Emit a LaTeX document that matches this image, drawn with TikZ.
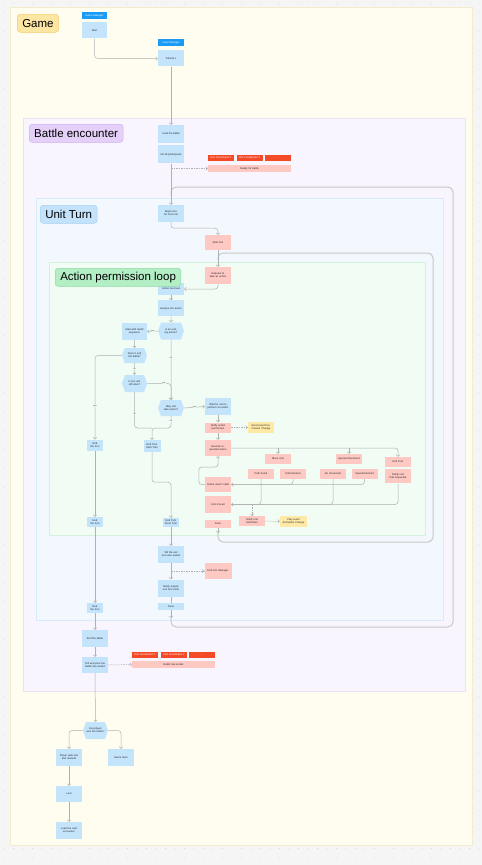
\documentclass[tikz,border=0pt]{standalone}
\usepackage{fontspec}
\setmainfont{Liberation Sans}
\usetikzlibrary{positioning,arrows.meta,shapes.symbols}
\definecolor{colortext}      {RGB}{40 ,40 ,40 }
\definecolor{colorcanvas}    {RGB}{245,245,245}
\definecolor{colordot}       {RGB}{200,200,200}
\definecolor{colorgame}      {RGB}{255,253,240}
\definecolor{colorgameline}  {RGB}{243,235,207}
\definecolor{colorbattle}    {RGB}{248,245,254}
\definecolor{colorbattleline}{RGB}{234,225,246}
\definecolor{colorunit}      {RGB}{243,248,254}
\definecolor{colorunitline}  {RGB}{217,234,251}
\definecolor{coloraction}    {RGB}{241,252,244}
\definecolor{coloractionline}{RGB}{210,241,218}
\definecolor{taggame}        {RGB}{252,230,164}
\definecolor{taggameline}    {RGB}{242,205,111}
\definecolor{tagbattle}      {RGB}{229,208,250}
\definecolor{tagbattleline}  {RGB}{207,175,240}
\definecolor{tagunit}        {RGB}{196,227,251}
\definecolor{tagunitline}    {RGB}{166,208,244}
\definecolor{tagaction}      {RGB}{180,238,197}
\definecolor{tagactionline}  {RGB}{140,216,163}
\definecolor{colorblue}      {RGB}{196,228,252}
\definecolor{colorhead}      {RGB}{26 ,155,245}
\definecolor{colorred}       {RGB}{244,74 ,39 }
\definecolor{colorpink}      {RGB}{254,200,195}
\definecolor{coloryellow}    {RGB}{254,233,166}
\definecolor{colorwire}      {RGB}{176,176,176}
\definecolor{colorloop}      {RGB}{200,200,200}

\begin{document}
\begin{tikzpicture}[
    x=1pt, y=-1pt,
    font={\fontsize{2.6}{3.1}\selectfont},
    base/.style={text=colortext,inner sep=0pt,align=center,rectangle,minimum width=26pt,text width=22pt},
    task/.style={base,fill=colorblue},
    call/.style={base,fill=colorpink},
    event/.style={base,fill=coloryellow},
    owner/.style={base,fill=colorhead,text=white,minimum height=7pt},
    peer/.style={base,fill=colorred,text=white,minimum height=6pt},
    narrow/.style={minimum width=16pt,text width=13pt},
    decision/.style={base,fill=colorblue,signal,signal to=east and west,signal pointer angle=140,text width=19pt},
    area/.style={line width=0.6pt},
    tag/.style={rounded corners=3pt,line width=0.5pt,inner xsep=5pt,minimum height=18pt,anchor=north west,text=black,font={\fontsize{11.5}{13}\selectfont}},
    wire/.style={draw=colorwire,line width=0.5pt,rounded corners=3pt},
    flow/.style={wire,-{Straight Barb[length=1.6pt,width=3.4pt]}},
    dflow/.style={flow,dash pattern=on 1.5pt off 1pt},
    loopline/.style={draw=colorloop,line width=1pt,rounded corners=5pt},
    lbl/.style={fill=coloraction,inner sep=0.3pt,text=colortext,font={\fontsize{2}{2.4}\selectfont}},
]
    \useasboundingbox (0,0) rectangle (482,865);

    % Canvas
    \fill[colorcanvas] (0,0) rectangle (482,865);
    \foreach \i in {0,...,50}
        \foreach \j in {0,...,91}
            \fill[colordot] (4+\i*9.5,3+\j*9.5) circle (0.45pt);

    % Sections
    \draw[area,fill=colorgame,draw=colorgameline]     (10,7)   rectangle (472,845);
    \draw[area,fill=colorbattle,draw=colorbattleline] (23,118) rectangle (465,691);
    \draw[area,fill=colorunit,draw=colorunitline]     (36,198) rectangle (443,620);
    \draw[area,fill=coloraction,draw=coloractionline] (49,262) rectangle (425,535);

    % Loops
    \coordinate (outerin) at (171,618);
    \coordinate (innerin) at (218,533);
    \draw[loopline] (outerin) -- (171,627) -- (453,627) -- (453,187) -- (171,187) -- (171,196);
    \draw[loopline] (innerin) -- (218,542) -- (433,542) -- (433,253) -- (218,253) -- (218,260);

    % Game
    \node[owner,minimum width=25pt] (gmhead) at (94.5,15.5) {Game Manager};
    \node[task,minimum width=25pt,minimum height=16pt,below=3pt of gmhead] (start) {Start};
    \node[owner] (lmhead) at (171,42.5) {Level Manager};
    \node[task,minimum height=16pt,below=4pt of lmhead] (tutorial) {Tutorial 1};
    \draw[flow] (start.south) |- (tutorial.west);

    % Battle
    \node[task,minimum height=18pt] (load) at (171,134) {Load the battle};
    \node[task,minimum height=18pt,below=2pt of load] (init) {Init all participants};
    \draw[flow] (tutorial) -- (load);
    \node[call,minimum width=83pt,text width=80pt,minimum height=7pt] (ready) at (249.5,168.5) {Ready for battle};
    \node[peer] (coord1) at (221,158)   {Unit Coordinator 1};
    \node[peer] (coord2) at (249.5,158) {Unit Coordinator 2};
    \node[peer] (coord3) at (278,158)   {...};
    \draw[dflow] (init.south |- ready.west) -- (ready.west);

    % Unit turn
    \node[task,minimum height=17pt] (begin) at (171,213.5) {Begin turn for next unit};
    \draw[flow] (init) -- (begin);
    \node[call,minimum height=15pt] (startturn) at (218,242.5) {Start turn};
    \draw[flow] (begin.south) -- ++(0,6) -| (startturn.north);

    % Action permission loop
    \node[call,minimum height=17pt] (request) at (218,275.5) {Request to take an action};
    \draw[flow] (startturn) -- (request);
    \node[task,minimum height=12pt] (received) at (171,289) {Action received};
    \draw[flow] (request.south) |- (received.east);
    \node[task,minimum height=16pt,below=5pt of received] (analyse) {Analyse the action};
    \draw[flow] (received) -- (analyse);
    \node[decision,minimum width=26pt,minimum height=17pt] (isend) at (171,331) {Is an ending action?};
    \draw[flow] (analyse) -- (isend);
    \node[task,minimum width=25pt,minimum height=17pt] (death) at (134.5,331.5) {Start with death sequence};
    \draw[flow] (isend.west) -- node[lbl]{yes} (death.east);
    \node[decision,minimum width=25pt,minimum height=15pt] (battleover) at (134.5,355.5) {Does it end the battle?};
    \draw[flow] (death) -- (battleover);
    \node[decision,minimum width=25pt,minimum height=17pt] (alive) at (134.5,383.5) {Is the unit still alive?};
    \draw[flow] (battleover) -- node[lbl]{no} (alive);
    \node[decision,minimum width=26pt,minimum height=16pt] (maytake) at (171,408) {May unit take action?};
    \draw[flow] (isend) -- node[lbl,pos=0.3]{no} (maytake);
    \draw[flow] (alive.east) -| node[lbl,pos=0.35]{yes} (maytake.north);

    \node[task,narrow,minimum height=11pt] (endturn1) at (95,445) {End the turn};
    \draw[flow] (battleover.west) -| node[lbl,pos=0.8]{yes} (endturn1.north);
    \node[task,narrow,minimum width=17pt,minimum height=12pt] (endstart) at (152,446) {End Turn Start Turn};
    \coordinate (merge) at (152,428);
    \draw[wire] (alive.south) |- node[lbl,pos=0.3]{no} (merge);
    \draw[flow] (maytake.south) |- node[lbl,pos=0.2]{no} (merge) -- (endstart.north);

    \node[task,minimum height=17pt] (perform) at (218,406.5) {Wait for unit to perform an action};
    \draw[flow] (maytake.east) -- node[lbl]{yes} (perform.west);
    \node[call,minimum height=10pt] (notify) at (218,427.5) {Notify action permission};
    \draw[flow] (perform) -- (notify);
    \node[event,minimum height=11pt] (permchange) at (261,427.5) {Send event Permission Change};
    \draw[dflow] (notify) -- (permchange);
    \node[call,minimum height=16pt] (execute) at (218,448) {Execute requested action};
    \draw[flow] (notify) -- (execute);

    % Requested actions
    \node[call,minimum height=10pt] (move)      at (278,459) {Move Unit};
    \node[call,minimum height=10pt] (special)   at (349,459) {Special Movement};
    \node[call,minimum height=10pt] (endtb)     at (398,462) {End Turn};
    \node[call,minimum height=14pt,below=2pt of endtb] (notifyreq) {Notify unit that requested};
    \node[call,minimum height=10pt] (pathfound) at (261,474) {Path found};
    \node[call,minimum height=10pt] (pathblock) at (293,474) {Path blocked};
    \node[call,minimum height=10pt] (domove)    at (333,474) {Do movement};
    \node[call,minimum height=10pt] (specblock) at (364.5,474) {Special blocked};
    \draw[flow] (execute.east) -| (endtb.north);
    \draw[flow] (move.north |- execute.east) -- (move.north);
    \draw[flow] (special.north |- execute.east) -- (special.north);

    \node[call,minimum height=15pt] (invalid) at (218,484.5) {Action wasn't valid};
    \draw[wire] (pathblock.south) |- (invalid.east);
    \draw[flow] (specblock.south) |- (invalid.east);
    \coordinate (retry) at (218,467);
    \draw[flow] (invalid.west) -- ++(-6,0) |- (retry) -- (execute.south);

    \node[call,minimum height=17pt] (moved) at (218,504.5) {Unit moved};
    \draw[wire] (pathfound.south) |- (moved.east);
    \draw[wire] (domove.south) |- (moved.east);
    \draw[flow] (notifyreq.south) |- (moved.east);
    \node[call,minimum height=10pt] (animnotify) at (252,521) {Notify unit Animation};
    \draw[dflow] (animnotify.north |- moved.east) -- (animnotify.north);
    \node[event,minimum width=27pt,minimum height=11pt] (animchange) at (293.5,521.5) {Play event Animation Change};
    \draw[dflow] (animnotify) -- (animchange);
    \node[call,minimum height=8pt] (done2) at (218,523.5) {Done};
    \draw[flow] (done2) -- (innerin);

    % End of unit turn
    \node[task,narrow,minimum height=9pt] (enddone) at (171,522.5) {End Turn Done Turn};
    \draw[flow] (endstart.south) -- ++(0,30) -| (enddone.north);
    \node[task,minimum height=17pt] (tellunit) at (171,554.5) {Tell the unit turn was ended};
    \draw[flow] (enddone) -- (tellunit);
    \node[call,minimum width=27pt,minimum height=16pt] (manager) at (218,571) {End turn Manager};
    \draw[dflow] (tellunit.south |- manager.west) -- (manager.west);
    \node[task,minimum height=17pt] (notifyend) at (171,588) {Notify engine unit turn ends};
    \draw[flow] (tellunit) -- (notifyend);
    \node[task,minimum height=7pt] (done3) at (171,606.5) {Done};
    \draw[wire] (notifyend) -- (done3);
    \draw[flow] (done3) -- (outerin);

    % End of battle
    \node[task,narrow,minimum height=10pt] (endturn2) at (95,522) {End the turn};
    \node[task,narrow,minimum height=10pt] (endturn3) at (95,608) {End the turn};
    \node[task,minimum height=17pt] (endbattle) at (95,638.5) {End the battle};
    \node[task,minimum height=16pt] (tellall) at (95,665) {Tell everyone the battle has ended};
    \draw[flow] (endturn1) -- (endturn2);
    \draw[flow] (endturn2) -- (endturn3);
    \draw[flow] (endturn3) -- (endbattle);
    \draw[flow] (endbattle) -- (tellall);
    \node[call,minimum width=83pt,text width=80pt,minimum height=7pt] (ended) at (173.5,664.5) {Battle has ended};
    \node[peer] (coord4) at (145,655) {Unit Coordinator 1};
    \node[peer] (coord5) at (174,655) {Unit Coordinator 2};
    \node[peer] (coord6) at (202,655) {...};
    \draw[dflow] (tellall.east) -- (ended.west);

    % After battle
    \node[decision,minimum width=25pt,minimum height=17pt] (haswon) at (95.5,730.5) {Has player won the battle?};
    \draw[flow] (tellall) -- (haswon);
    \node[task,minimum height=17pt] (rewards) at (69,757.5) {Player gets loot and rewards};
    \node[task,minimum height=17pt] (gameover) at (121,757.5) {Game Over};
    \draw[flow] (haswon.west) -| (rewards.north);
    \draw[flow] (haswon.east) -| (gameover.north);
    \node[task,minimum height=16pt] (loot) at (69,794) {Loot};
    \node[task,minimum height=17pt] (next) at (69,830.5) {Load the next encounter};
    \draw[flow] (rewards) -- (loot);
    \draw[flow] (loot) -- (next);

    % Section tags
    \node[tag,fill=taggame,draw=taggameline]       (gametag)   at (17,14)  {Game};
    \node[tag,fill=tagbattle,draw=tagbattleline]   (battletag) at (29,124) {Battle encounter};
    \node[tag,fill=tagunit,draw=tagunitline]       (unittag)   at (40,205) {Unit Turn};
    \node[tag,fill=tagaction,draw=tagactionline]   (actiontag) at (55,268) {Action permission loop};

\end{tikzpicture}
\end{document}
